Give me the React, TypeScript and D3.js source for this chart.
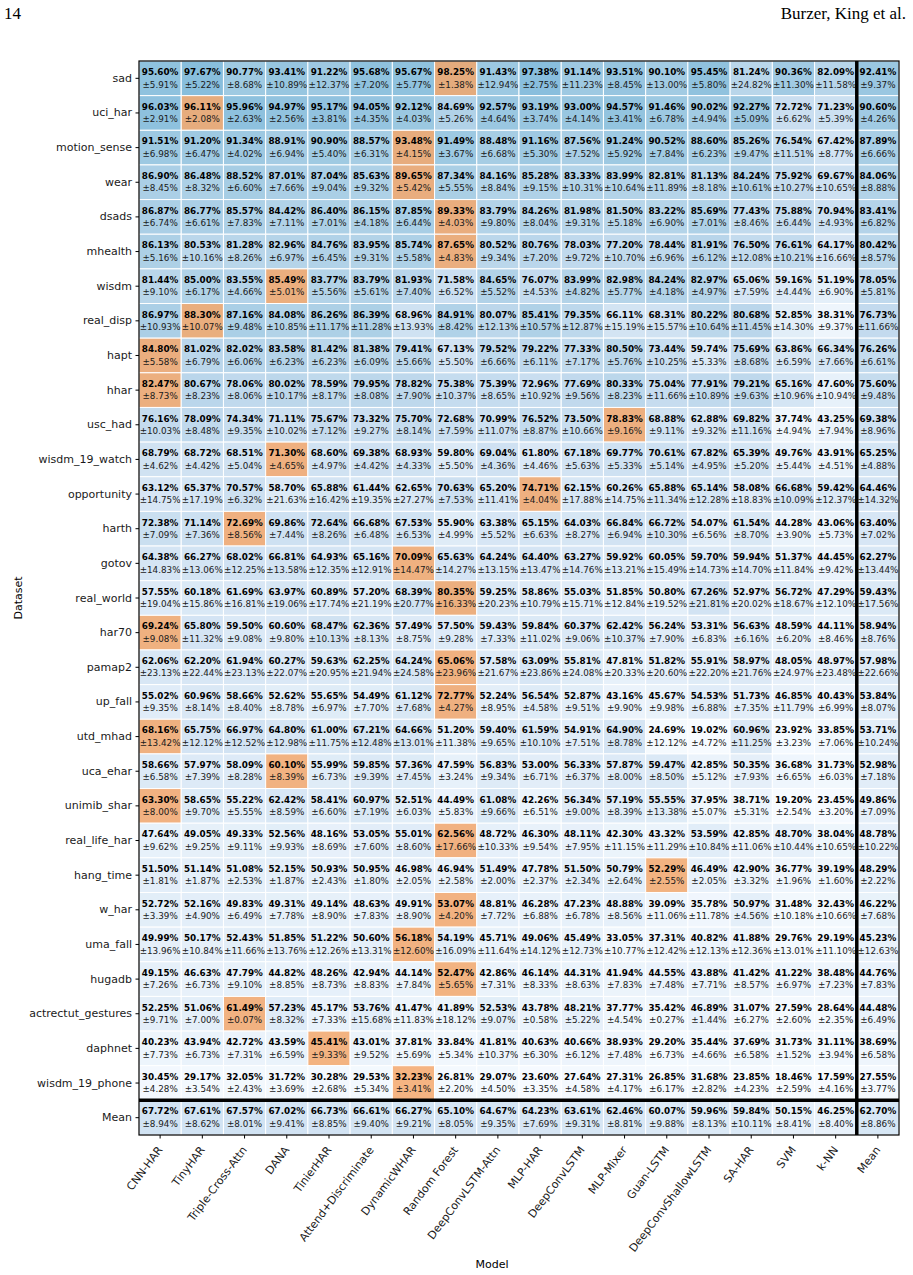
import { useEffect, useRef } from 'react';
import * as d3 from 'd3';

const models = [
  'CNN-HAR', 'TinyHAR', 'Triple-Cross-Attn', 'DANA', 'TinierHAR', 'Attend+Discriminate',
  'DynamicWHAR', 'Random Forest', 'DeepConvLSTM-Attn', 'MLP-HAR', 'DeepConvLSTM', 'MLP-Mixer',
  'Guan-LSTM', 'DeepConvShallowLSTM', 'SA-HAR', 'SVM', 'k-NN', 'Mean',
];

const datasets = [
  'sad', 'uci_har', 'motion_sense', 'wear', 'dsads', 'mhealth', 'wisdm', 'real_disp', 'hapt',
  'hhar', 'usc_had', 'wisdm_19_watch', 'opportunity', 'harth', 'gotov', 'real_world', 'har70',
  'pamap2', 'up_fall', 'utd_mhad', 'uca_ehar', 'unimib_shar', 'real_life_har', 'hang_time',
  'w_har', 'uma_fall', 'hugadb', 'actrectut_gestures', 'daphnet', 'wisdm_19_phone', 'Mean',
];

// mean F1 (%) per dataset row, one entry per model (last entry = row mean)
const scores = [
  [95.60, 97.67, 90.77, 93.41, 91.22, 95.68, 95.67, 98.25, 91.43, 97.38, 91.14, 93.51, 90.10, 95.45, 81.24, 90.36, 82.09, 92.41],
  [96.03, 96.11, 95.96, 94.97, 95.17, 94.05, 92.12, 84.69, 92.57, 93.19, 93.00, 94.57, 91.46, 90.02, 92.27, 72.72, 71.23, 90.60],
  [91.51, 91.20, 91.34, 88.91, 90.90, 88.57, 93.48, 91.49, 88.48, 91.16, 87.56, 91.24, 90.52, 88.60, 85.26, 76.54, 67.42, 87.89],
  [86.90, 86.48, 88.52, 87.01, 87.04, 85.63, 89.65, 87.34, 84.16, 85.28, 83.33, 83.99, 82.81, 81.13, 84.24, 75.92, 69.67, 84.06],
  [86.87, 86.77, 85.57, 84.42, 86.40, 86.15, 87.85, 89.33, 83.79, 84.26, 81.98, 81.50, 83.22, 85.69, 77.43, 75.88, 70.94, 83.41],
  [86.13, 80.53, 81.28, 82.96, 84.76, 83.95, 85.74, 87.65, 80.52, 80.76, 78.03, 77.20, 78.44, 81.91, 76.50, 76.61, 64.17, 80.42],
  [81.44, 85.00, 83.55, 85.49, 83.77, 83.79, 81.93, 71.58, 84.65, 76.07, 83.99, 82.98, 84.24, 82.97, 65.06, 59.16, 51.19, 78.05],
  [86.97, 88.30, 87.16, 84.08, 86.26, 86.39, 68.96, 84.91, 80.07, 85.41, 79.35, 66.11, 68.31, 80.22, 80.68, 52.85, 38.31, 76.73],
  [84.80, 81.02, 82.02, 83.58, 81.42, 81.38, 79.41, 67.13, 79.52, 79.22, 77.33, 80.50, 73.44, 59.74, 75.69, 63.86, 66.34, 76.26],
  [82.47, 80.67, 78.06, 80.02, 78.59, 79.95, 78.82, 75.38, 75.39, 72.96, 77.69, 80.33, 75.04, 77.91, 79.21, 65.16, 47.60, 75.60],
  [76.16, 78.09, 74.34, 71.11, 75.67, 73.32, 75.70, 72.68, 70.99, 76.52, 73.50, 78.83, 68.88, 62.88, 69.82, 37.74, 43.25, 69.38],
  [68.79, 68.72, 68.51, 71.30, 68.60, 69.38, 68.93, 59.80, 69.04, 61.80, 67.18, 69.77, 70.61, 67.82, 65.39, 49.76, 43.91, 65.25],
  [63.12, 65.37, 70.57, 58.70, 65.88, 61.44, 62.65, 70.63, 65.20, 74.71, 62.15, 60.26, 65.88, 65.14, 58.08, 66.68, 59.42, 64.46],
  [72.38, 71.14, 72.69, 69.86, 72.64, 66.68, 67.53, 55.90, 63.38, 65.15, 64.03, 66.84, 66.72, 54.07, 61.54, 44.28, 43.06, 63.40],
  [64.38, 66.27, 68.02, 66.81, 64.93, 65.16, 70.09, 65.63, 64.24, 64.40, 63.27, 59.92, 60.05, 59.70, 59.94, 51.37, 44.45, 62.27],
  [57.55, 60.18, 61.69, 63.97, 60.89, 57.20, 68.39, 80.35, 59.25, 58.86, 55.03, 51.85, 50.80, 67.26, 52.97, 56.72, 47.29, 59.43],
  [69.24, 65.80, 59.50, 60.60, 68.47, 62.36, 57.49, 57.50, 59.43, 59.84, 60.37, 62.42, 56.24, 53.31, 56.63, 48.59, 44.11, 58.94],
  [62.06, 62.20, 61.94, 60.27, 59.63, 62.25, 64.24, 65.06, 57.58, 63.09, 55.81, 47.81, 51.82, 55.91, 58.97, 48.05, 48.97, 57.98],
  [55.02, 60.96, 58.66, 52.62, 55.65, 54.49, 61.12, 72.77, 52.24, 56.54, 52.87, 43.16, 45.67, 54.53, 51.73, 46.85, 40.43, 53.84],
  [68.16, 65.75, 66.97, 64.80, 61.00, 67.21, 64.66, 51.20, 59.40, 61.59, 54.91, 64.90, 24.69, 19.02, 60.96, 23.92, 33.85, 53.71],
  [58.66, 57.97, 58.09, 60.10, 55.99, 59.85, 57.36, 47.59, 56.83, 53.00, 56.33, 57.87, 59.47, 42.85, 50.35, 36.68, 31.73, 52.98],
  [63.30, 58.65, 55.22, 62.42, 58.41, 60.97, 52.51, 44.49, 61.08, 42.26, 56.34, 57.19, 55.55, 37.95, 38.71, 19.20, 23.45, 49.86],
  [47.64, 49.05, 49.33, 52.56, 48.16, 53.05, 55.01, 62.56, 48.72, 46.30, 48.11, 42.30, 43.32, 53.59, 42.85, 48.70, 38.04, 48.78],
  [51.50, 51.14, 51.08, 52.15, 50.93, 50.95, 46.98, 46.94, 51.49, 47.78, 51.50, 50.79, 52.29, 46.49, 42.90, 36.77, 39.19, 48.29],
  [52.72, 52.16, 49.83, 49.31, 49.14, 48.63, 49.91, 53.07, 48.81, 46.28, 47.23, 48.88, 39.09, 35.78, 50.97, 31.48, 32.43, 46.22],
  [49.99, 50.17, 52.43, 51.85, 51.22, 50.60, 56.18, 54.19, 45.71, 49.06, 45.49, 33.05, 37.31, 40.82, 41.88, 29.76, 29.19, 45.23],
  [49.15, 46.63, 47.79, 44.82, 48.26, 42.94, 44.14, 52.47, 42.86, 46.14, 44.31, 41.94, 44.55, 43.88, 41.42, 41.22, 38.48, 44.76],
  [52.25, 51.06, 61.49, 57.23, 45.17, 53.76, 41.47, 41.89, 52.53, 43.78, 48.21, 37.77, 35.42, 46.89, 31.07, 27.59, 28.64, 44.48],
  [40.23, 43.94, 42.72, 43.59, 45.41, 43.01, 37.81, 33.84, 41.81, 40.63, 40.66, 38.93, 29.20, 35.44, 37.69, 31.73, 31.11, 38.69],
  [30.45, 29.17, 32.05, 31.72, 30.28, 29.53, 32.23, 26.81, 29.07, 23.60, 27.64, 27.31, 26.85, 31.68, 23.85, 18.46, 17.59, 27.55],
  [67.72, 67.61, 67.57, 67.02, 66.73, 66.61, 66.27, 65.10, 64.67, 64.23, 63.61, 62.46, 60.07, 59.96, 59.84, 50.15, 46.25, 62.70],
];

// standard deviation (%) for each cell, same layout as scores
const spreads = [
  [5.91, 5.22, 8.68, 10.89, 12.37, 7.20, 5.77, 1.38, 12.94, 2.75, 11.23, 8.45, 13.00, 5.80, 24.82, 11.30, 11.58, 9.37],
  [2.91, 2.08, 2.63, 2.56, 3.81, 4.35, 4.03, 5.26, 4.64, 3.74, 4.14, 3.41, 6.78, 4.94, 5.09, 6.62, 5.39, 4.26],
  [6.98, 6.47, 4.02, 6.94, 5.40, 6.31, 4.15, 3.67, 6.68, 5.30, 7.52, 5.92, 7.84, 6.23, 9.47, 11.51, 8.77, 6.66],
  [8.45, 8.32, 6.60, 7.66, 9.04, 9.32, 5.42, 5.55, 8.84, 9.15, 10.31, 10.64, 11.89, 8.18, 10.61, 10.27, 10.65, 8.88],
  [6.74, 6.61, 7.83, 7.11, 7.01, 4.18, 6.44, 4.03, 9.80, 8.04, 9.31, 5.18, 6.90, 7.01, 8.46, 6.44, 4.93, 6.82],
  [5.16, 10.16, 8.26, 6.97, 6.45, 9.31, 5.58, 4.83, 9.34, 7.20, 9.72, 10.70, 6.96, 6.12, 12.08, 10.21, 16.66, 8.57],
  [9.10, 6.17, 4.66, 5.01, 5.56, 5.61, 7.40, 6.52, 5.52, 4.53, 4.82, 5.77, 4.18, 4.97, 7.59, 4.44, 6.90, 5.81],
  [10.93, 10.07, 9.48, 10.85, 11.17, 11.28, 13.93, 8.42, 12.13, 10.57, 12.87, 15.19, 15.57, 10.64, 11.45, 14.30, 9.37, 11.66],
  [5.58, 6.79, 6.06, 6.23, 6.23, 6.09, 5.66, 5.50, 6.66, 6.11, 7.17, 5.76, 10.25, 5.33, 8.68, 6.59, 7.66, 6.61],
  [8.73, 8.23, 8.06, 10.17, 8.17, 8.08, 7.90, 10.37, 8.65, 10.92, 9.56, 8.23, 11.66, 10.89, 9.63, 10.96, 10.94, 9.48],
  [10.03, 8.48, 9.35, 10.02, 7.12, 9.27, 8.14, 7.59, 11.07, 8.87, 10.66, 9.16, 9.11, 9.32, 11.16, 4.94, 7.94, 8.96],
  [4.62, 4.42, 5.04, 4.65, 4.97, 4.42, 4.33, 5.50, 4.36, 4.46, 5.63, 5.33, 5.14, 4.95, 5.20, 5.44, 4.51, 4.88],
  [14.75, 17.19, 6.32, 21.63, 16.42, 19.35, 27.27, 7.53, 11.41, 4.04, 17.88, 14.75, 11.34, 12.28, 18.83, 10.09, 12.37, 14.32],
  [7.09, 7.36, 8.56, 7.44, 8.26, 6.48, 6.53, 4.99, 5.52, 6.63, 8.27, 6.94, 10.30, 6.56, 8.70, 3.90, 5.73, 7.02],
  [14.83, 13.06, 12.25, 13.58, 12.35, 12.91, 14.47, 14.27, 13.15, 13.47, 14.76, 13.21, 15.49, 14.73, 14.70, 11.84, 9.42, 13.44],
  [19.04, 15.86, 16.81, 19.06, 17.74, 21.19, 20.77, 16.33, 20.23, 10.79, 15.71, 12.84, 19.52, 21.81, 20.02, 18.67, 12.10, 17.56],
  [9.08, 11.32, 9.08, 9.80, 10.13, 8.13, 8.75, 9.28, 7.33, 11.02, 9.06, 10.37, 7.90, 6.83, 6.16, 6.20, 8.46, 8.76],
  [23.13, 22.44, 23.13, 22.07, 20.95, 21.94, 24.58, 23.96, 21.67, 23.86, 24.08, 20.33, 20.60, 22.20, 21.76, 24.97, 23.48, 22.66],
  [9.35, 8.14, 8.40, 8.78, 6.97, 7.70, 7.68, 4.27, 8.95, 4.58, 9.51, 9.90, 9.98, 6.88, 7.35, 11.79, 6.99, 8.07],
  [13.42, 12.12, 12.52, 12.98, 11.75, 12.48, 13.01, 11.38, 9.65, 10.10, 7.51, 8.78, 12.12, 4.72, 11.25, 3.23, 7.06, 10.24],
  [6.58, 7.39, 8.28, 8.39, 6.73, 9.39, 7.45, 3.24, 9.34, 6.71, 6.37, 8.00, 8.50, 5.12, 7.93, 6.65, 6.03, 7.18],
  [8.00, 9.70, 5.55, 8.59, 6.60, 7.19, 6.03, 5.83, 9.66, 6.51, 9.00, 8.39, 13.38, 5.07, 5.31, 2.54, 3.20, 7.09],
  [9.62, 9.25, 9.11, 9.93, 8.69, 7.60, 8.60, 17.66, 10.33, 9.54, 7.95, 11.15, 11.29, 10.84, 11.06, 10.44, 10.65, 10.22],
  [1.81, 1.87, 2.53, 1.87, 2.43, 1.80, 2.05, 2.58, 2.00, 2.37, 2.34, 2.64, 2.55, 2.05, 3.32, 1.96, 1.60, 2.22],
  [3.39, 4.90, 6.49, 7.78, 8.90, 7.83, 8.90, 4.20, 7.72, 6.88, 6.78, 8.56, 11.06, 11.78, 4.56, 10.18, 10.66, 7.68],
  [13.96, 10.84, 11.66, 13.76, 12.26, 13.31, 12.60, 16.09, 11.64, 14.12, 12.73, 10.77, 12.42, 12.13, 12.36, 13.01, 11.10, 12.63],
  [7.26, 6.73, 9.10, 8.85, 8.73, 8.83, 7.84, 5.65, 7.31, 8.33, 8.63, 7.83, 7.48, 7.71, 8.57, 6.97, 7.23, 7.83],
  [9.71, 7.00, 0.07, 8.32, 7.33, 15.68, 11.83, 18.12, 9.07, 0.58, 5.22, 4.54, 0.27, 1.44, 6.27, 2.60, 2.35, 6.49],
  [7.73, 6.73, 7.31, 6.59, 9.33, 9.52, 5.69, 5.34, 10.37, 6.30, 6.12, 7.48, 6.73, 4.66, 6.58, 1.52, 3.94, 6.58],
  [4.28, 3.54, 2.43, 3.69, 2.68, 5.34, 3.41, 2.20, 4.50, 3.35, 4.58, 4.17, 6.17, 2.82, 4.23, 2.59, 4.16, 3.77],
  [8.94, 8.62, 8.01, 9.41, 8.85, 9.40, 9.21, 8.05, 9.35, 7.69, 9.31, 8.81, 9.88, 8.13, 10.11, 8.41, 8.40, 8.86],
];

const W = 913;
const H = 1275;
const FONT = '"DejaVu Sans", sans-serif';

export default function App() {
  const svgRef = useRef<SVGSVGElement>(null);

  useEffect(() => {
    if (!svgRef.current) return;
    const svg = d3.select(svgRef.current);
    svg.selectAll('*').remove();

    const left = 139, right = 899, top = 61, bottom = 1135;

    const x = d3.scaleBand<string>().domain(models).range([left, right]);
    const y = d3.scaleBand<string>().domain(datasets).range([top, bottom]);

    // Blues ramp, compressed so cells stay light enough for the text
    const shade = (v: number) => {
      const t = Math.max(0, Math.min(1, (v - 15) / 85));
      return d3.interpolateBlues(0.45 * Math.pow(t, 1.8));
    };
    const orange = '#f5a86c';

    // page header
    svg.append('text')
      .attr('x', 4).attr('y', 19)
      .style('font-family', '"Liberation Serif", serif')
      .style('font-size', '17px')
      .text('14');
    svg.append('text')
      .attr('x', 906).attr('y', 19)
      .attr('text-anchor', 'end')
      .style('font-family', '"Liberation Serif", serif')
      .style('font-size', '17px')
      .text('Burzer, King et al.');

    const nModels = models.length - 1;
    const nRows = datasets.length - 1;

    const cells = svg.append('g');
    datasets.forEach((ds, ri) => {
      const row = scores[ri];
      const best = ri < nRows ? d3.maxIndex(row.slice(0, nModels)) : -1;
      models.forEach((m, ci) => {
        const v = row[ci];
        const base = shade(v);
        const fill = ci === best ? d3.interpolateRgb(base, orange)(0.85) : base;
        const cx = x(m)!, cy = y(ds)!;
        cells.append('rect')
          .attr('x', cx).attr('y', cy)
          .attr('width', x.bandwidth()).attr('height', y.bandwidth())
          .attr('fill', fill)
          .attr('stroke', '#fff')
          .attr('stroke-width', 1);
        const mx = cx + x.bandwidth() / 2;
        const my = cy + y.bandwidth() / 2;
        cells.append('text')
          .attr('x', mx).attr('y', my - 6.2)
          .attr('text-anchor', 'middle')
          .attr('dominant-baseline', 'central')
          .style('font-family', FONT)
          .style('font-size', '8.8px')
          .style('font-weight', 'bold')
          .style('fill', '#000')
          .text(`${v.toFixed(2)}%`);
        cells.append('text')
          .attr('x', mx).attr('y', my + 6.2)
          .attr('text-anchor', 'middle')
          .attr('dominant-baseline', 'central')
          .style('font-family', FONT)
          .style('font-size', '8.8px')
          .style('fill', '#1a1a1a')
          .text(`±${spreads[ri][ci].toFixed(2)}%`);
      });
    });

    // frame
    svg.append('rect')
      .attr('x', left).attr('y', top)
      .attr('width', right - left).attr('height', bottom - top)
      .attr('fill', 'none')
      .attr('stroke', '#000')
      .attr('stroke-width', 1.2);

    // separators for the Mean column and Mean row
    svg.append('line')
      .attr('x1', x('Mean')!).attr('x2', x('Mean')!)
      .attr('y1', top).attr('y2', bottom)
      .attr('stroke', '#000').attr('stroke-width', 3.5);
    svg.append('line')
      .attr('x1', left).attr('x2', right)
      .attr('y1', y('Mean')!).attr('y2', y('Mean')!)
      .attr('stroke', '#000').attr('stroke-width', 3.5);

    // y axis
    const yAxis = svg.append('g')
      .attr('transform', `translate(${left},0)`)
      .call(d3.axisLeft(y).tickSize(3.5).tickPadding(3.5));
    yAxis.select('.domain').remove();
    yAxis.selectAll('text')
      .style('font-family', FONT)
      .style('font-size', '11px')
      .style('fill', '#1a1a1a');

    // x axis
    const xAxis = svg.append('g')
      .attr('transform', `translate(0,${bottom})`)
      .call(d3.axisBottom(x).tickSize(3.5).tickPadding(3.5));
    xAxis.select('.domain').remove();
    xAxis.selectAll<SVGTextElement, string>('text')
      .attr('x', 0).attr('y', 0).attr('dy', 0)
      .attr('text-anchor', 'end')
      .attr('transform', 'translate(3,15) rotate(-53)')
      .style('font-family', FONT)
      .style('font-size', '11px')
      .style('fill', '#1a1a1a');

    // axis titles
    svg.append('text')
      .attr('x', 492).attr('y', 1268)
      .attr('text-anchor', 'middle')
      .style('font-family', FONT)
      .style('font-size', '11px')
      .text('Model');
    svg.append('text')
      .attr('transform', `translate(22,${(top + bottom) / 2}) rotate(-90)`)
      .attr('text-anchor', 'middle')
      .style('font-family', FONT)
      .style('font-size', '11px')
      .text('Dataset');
  }, []);

  return (
    <svg
      ref={svgRef}
      width={W}
      height={H}
      style={{ position: 'absolute', left: 0, top: 0, background: '#fff' }}
    />
  );
}
